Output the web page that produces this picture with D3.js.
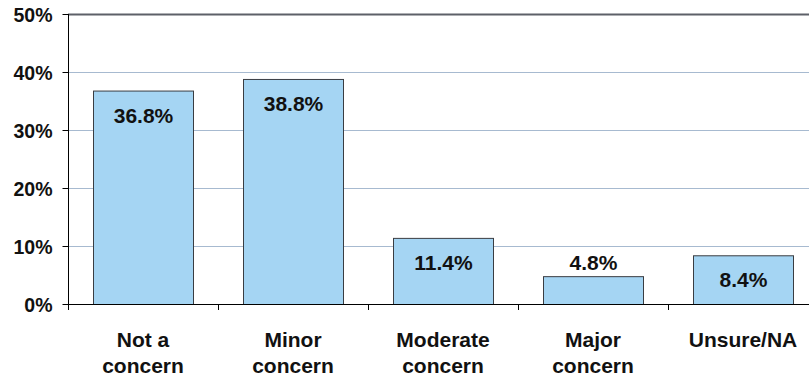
<!DOCTYPE html>
<html>
<head>
<meta charset="utf-8">
<script src="https://cdn.jsdelivr.net/npm/d3@7"></script>
<style>
  html, body { margin: 0; padding: 0; background: #fff; }
  svg { display: block; font-family: "Liberation Sans", Arial, sans-serif; font-weight: bold; }
</style>
</head>
<body>
<svg id="chart" width="809" height="377"></svg>
<script>
// Responses by level of concern
const categories = [["Not a", "concern"], ["Minor", "concern"], ["Moderate", "concern"], ["Major", "concern"], ["Unsure/NA"]];
const values = [36.8, 38.8, 11.4, 4.8, 8.4];
const yTicks = [0, 10, 20, 30, 40, 50];

const svg = d3.select("#chart");
const plotLeft = 68, plotTop = 14, plotBottom = 304, plotRight = 818;

const x = d3.scaleBand()
  .domain(d3.range(categories.length))
  .range([plotLeft, plotRight])
  .paddingInner(1 / 3)
  .paddingOuter(1 / 6);

const y = d3.scaleLinear().domain([0, 50]).range([plotBottom, plotTop]);

// horizontal gridlines
svg.append("g").selectAll("line")
  .data(yTicks.filter(t => t > 0))
  .join("line")
  .attr("x1", plotLeft).attr("x2", 809)
  .attr("y1", d => y(d) + 0.5).attr("y2", d => y(d) + 0.5)
  .attr("stroke", d => d === 50 ? "#5d6068" : "#a7bad0")
  .attr("stroke-width", d => d === 50 ? 2 : 1.2);

// bars
svg.append("g").selectAll("rect")
  .data(values)
  .join("rect")
  .attr("x", (d, i) => x(i) + 0.5)
  .attr("y", d => y(d) + 0.5)
  .attr("width", x.bandwidth())
  .attr("height", d => y(0) - y(d))
  .attr("fill", "#a5d5f3")
  .attr("stroke", "#3a3d42")
  .attr("stroke-width", 1);

// value labels
svg.append("g").selectAll("text")
  .data(values)
  .join("text")
  .attr("x", (d, i) => x(i) + x.bandwidth() / 2 + 0.5)
  .attr("y", d => d < 6 ? y(d) - 6 : y(d) + 32)
  .attr("text-anchor", "middle")
  .attr("font-size", 21)
  .attr("fill", "#111")
  .text(d => d.toFixed(1) + "%");

// y axis
const yAxis = svg.append("g").attr("transform", `translate(${plotLeft + 0.5},0)`)
  .call(d3.axisLeft(y).tickValues(yTicks).tickFormat(d => d + "%").tickSize(6).tickPadding(10));
yAxis.select(".domain").attr("stroke", "#000").attr("d", `M0,${plotTop}V${plotBottom + 6}`);
yAxis.selectAll(".tick line").attr("stroke", "#000");
yAxis.selectAll(".tick text")
  .attr("font-size", 19.5).attr("font-weight", "bold").attr("font-family", "Liberation Sans, Arial, sans-serif")
  .attr("fill", "#111").attr("dy", "0.36em");

// x axis baseline and category separators
const bounds = d3.range(categories.length + 1).map(i => plotLeft + i * x.step());
svg.append("line")
  .attr("x1", plotLeft).attr("x2", 809)
  .attr("y1", plotBottom + 0.5).attr("y2", plotBottom + 0.5)
  .attr("stroke", "#000").attr("stroke-width", 1.2);
svg.append("g").selectAll("line")
  .data(bounds)
  .join("line")
  .attr("x1", d => d + 0.5).attr("x2", d => d + 0.5)
  .attr("y1", plotBottom).attr("y2", plotBottom + 6)
  .attr("stroke", "#000");

// category labels
const catText = svg.append("g").selectAll("text")
  .data(categories)
  .join("text")
  .attr("x", (d, i) => x(i) + x.bandwidth() / 2)
  .attr("y", 347)
  .attr("text-anchor", "middle")
  .attr("font-size", 21)
  .attr("fill", "#111");
catText.selectAll("tspan")
  .data(d => d)
  .join("tspan")
  .attr("x", function () { return d3.select(this.parentNode).attr("x"); })
  .attr("dy", (d, i) => i === 0 ? 0 : 26)
  .text(d => d);
</script>
</body>
</html>
